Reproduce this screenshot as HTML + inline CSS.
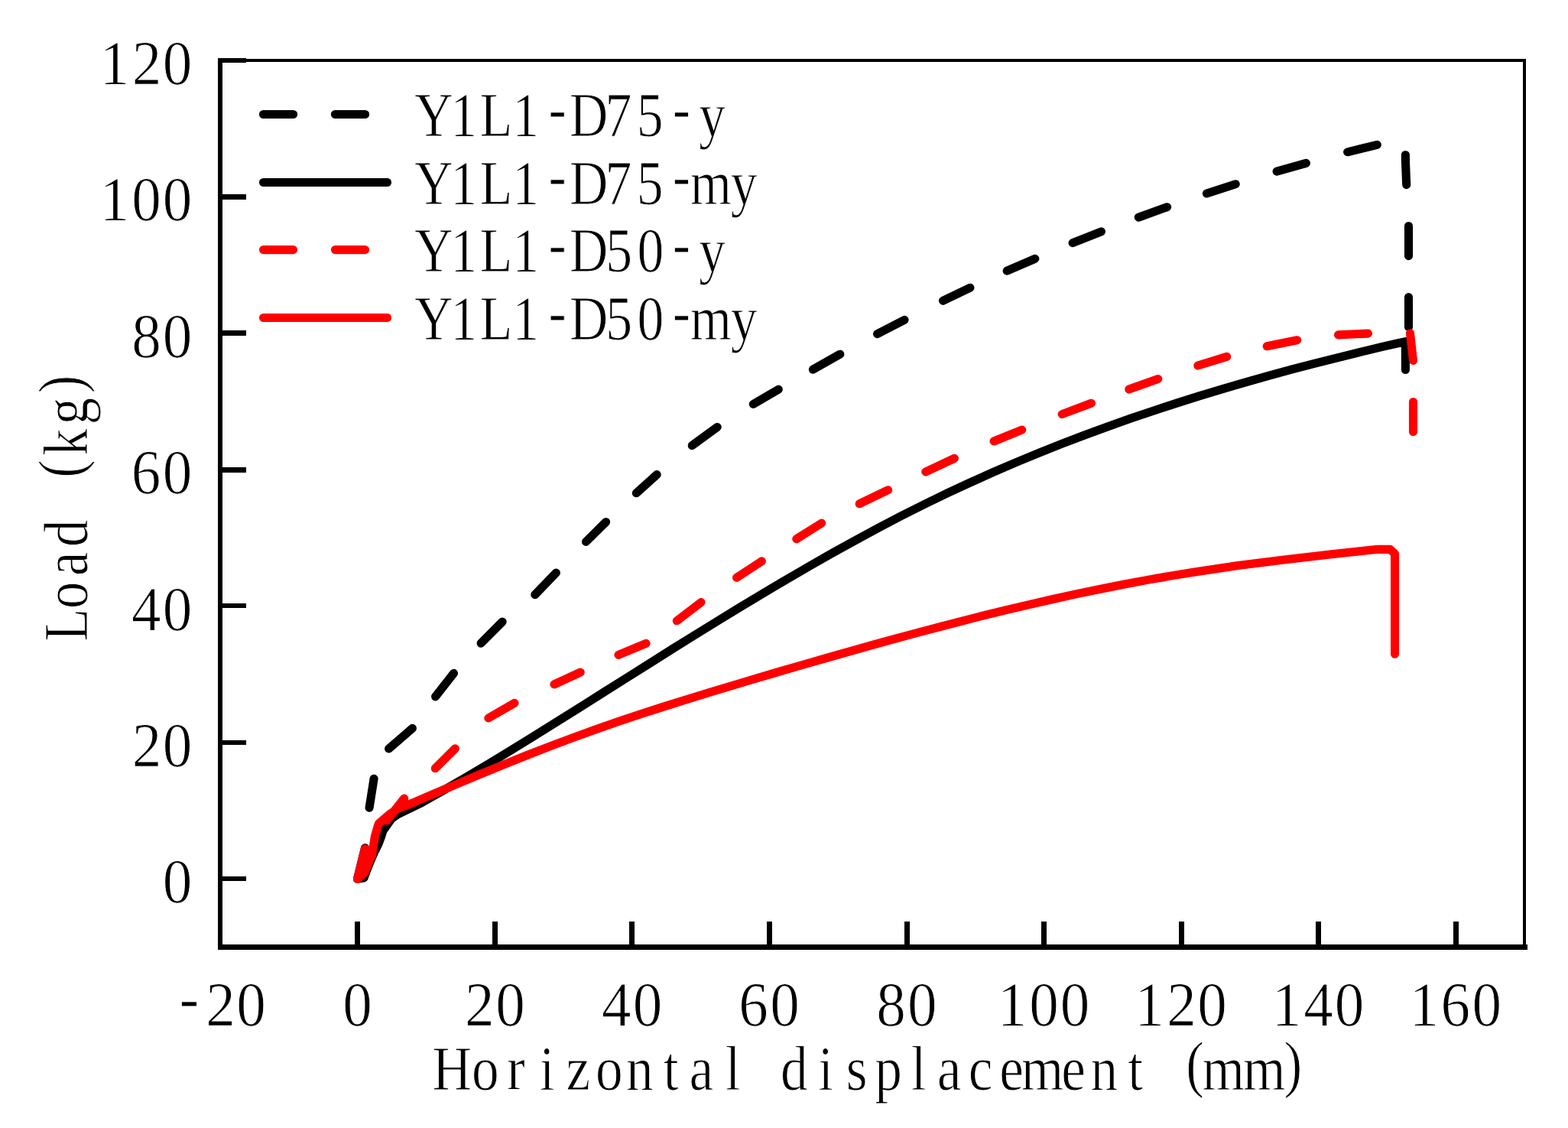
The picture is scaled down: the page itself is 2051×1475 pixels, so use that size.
<!DOCTYPE html>
<html lang="en"><head><meta charset="utf-8"><title>Load - horizontal displacement</title>
<style>html,body{margin:0;padding:0;background:#fff}body{width:2051px;height:1475px;overflow:hidden}svg{display:block}text{font-family:'Liberation Serif', serif;font-size:83px;fill:#000;stroke:#fff;stroke-width:1.0}</style></head><body>
<svg width="2051" height="1475" viewBox="0 0 2051 1475">
<rect width="2051" height="1475" fill="#fff"/>
<g fill="none" stroke-width="11.1" stroke-linecap="round" stroke-linejoin="round">
<path stroke="#000" d="M467.5 1149.3 L477.5 1108.7 M483.1 1056.2 L489.1 1018.2 M508.6 979 L539.4 952.4 M569.6 910.9 L593.5 880.4 M629.1 841.2 L657.1 813 M699.8 777.6 L727.4 749 M766.5 708.4 L792.6 682.5 M832.3 644.8 L859.2 620.6 M905.3 582.6 L938.2 558.5 M985.3 528.5 L1018.3 509.2 M1063.4 483.2 L1098.8 463.2 M1147.6 436.7 L1183 418.3 M1233.5 393.2 L1268.9 376.3 M1317.2 354.2 L1353.8 338.3 M1403.1 317.7 L1440.5 302.8 M1489.3 284.2 L1526.6 270.7 M1578.4 253 L1616.2 240.7 M1670.1 224.2 L1708.4 213.3 M1762.6 198.8 L1801.3 189.3 M1838.4 202.5 L1838.5 212 L1839.7 241.6 M1842.5 295.5 L1842.5 334.7 M1842.5 388.6 L1842.5 427.6"/>
<path stroke="#000" d="M467.5 1149.3 L476 1148 L480 1137.1 L483.7 1128 L489.8 1113.9 L494.7 1104.2 L498.9 1093.2 L501.2 1085.9 L512.2 1070.6 L520 1065 L549.3 1050.8 L579.3 1033.9 L609.3 1016.5 L639.3 998.7 L669.3 980.5 L699.3 962 L729.3 943.3 L759.3 924.5 L789.3 905.5 L819.3 886.6 L849.3 867.7 L879.3 848.8 L909.3 830.1 L939.3 811.6 L969.3 793.2 L999.3 775.2 L1029.3 757.4 L1059.3 740 L1089.3 722.9 L1119.3 706.3 L1149.3 690.1 L1179.3 674.4 L1209.3 659.4 L1239.3 644.8 L1269.3 630.9 L1299.3 617.4 L1329.3 604.5 L1359.3 592.1 L1389.3 580.2 L1419.3 568.7 L1449.3 557.7 L1479.3 547.1 L1509.3 536.9 L1539.3 527.1 L1569.3 517.6 L1599.3 508.6 L1629.3 499.8 L1659.3 491.4 L1689.3 483.2 L1719.3 475.4 L1749.3 467.8 L1779.3 460.4 L1809.3 453.2 L1825.5 449.5 L1838.4 446.6 L1838.4 483.5"/>
<path stroke="#ff0000" d="M467.5 1149.3 L477.5 1109.7 M505.9 1073 L528.7 1044 M569.3 1004.8 L595.4 978.8 M638.9 939 L673 919.4 M725 894.9 L759.2 879.1 M809 856.4 L845.1 841.4 M885.3 811.8 L917 787.6 M963.5 755.3 L996.4 733.9 M1041.8 704.8 L1074.7 684.1 M1124.2 658.8 L1161.6 640.8 M1210.8 617 L1248.4 599.4 M1300.1 577 L1336.7 562.1 M1389.2 541.6 L1427.5 527.2 M1476.8 509.1 L1514.8 495.5 M1566.9 478 L1604.7 466.4 M1657.2 452.8 L1696.7 444.8 M1750.5 437.9 L1789.4 436.1 M1844.5 435.7 L1848.5 471.5 M1848.5 525.5 L1848.5 564.7"/>
<path stroke="#ff0000" d="M467.5 1149.3 L477 1141 L484 1124 L486.4 1119.5 L490.3 1094.1 L493.9 1081.4 L495.5 1077 L508.5 1065.6 L520 1057.5 L539.5 1050 L569.5 1037.2 L599.5 1024.5 L629.5 1011.9 L659.5 999.6 L689.5 987.5 L719.5 975.8 L749.5 964.6 L779.5 953.7 L809.5 943.3 L839.5 933.3 L869.5 923.6 L899.5 914.2 L929.5 905 L959.5 896 L989.5 887 L1019.5 878.2 L1049.5 869.5 L1079.5 860.8 L1109.5 852.3 L1139.5 843.9 L1169.5 835.6 L1199.5 827.5 L1229.5 819.6 L1259.5 811.8 L1289.5 804.2 L1319.5 796.9 L1349.5 789.8 L1379.5 783 L1409.5 776.4 L1439.5 770.2 L1469.5 764.2 L1499.5 758.6 L1529.5 753.4 L1559.5 748.5 L1589.5 743.9 L1619.5 739.6 L1649.5 735.7 L1679.5 731.9 L1709.5 728.4 L1739.5 725 L1769.5 721.8 L1799.5 718.6 L1802.7 718.3 L1818.5 718.4 L1824.5 724.3 L1824.5 855.3"/>
</g>
<g fill="#000" shape-rendering="crispEdges">
<rect x="464" y="1205" width="7" height="34"/>
<rect x="644" y="1205" width="7" height="34"/>
<rect x="823" y="1205" width="7" height="34"/>
<rect x="1003" y="1205" width="7" height="34"/>
<rect x="1183" y="1205" width="7" height="34"/>
<rect x="1362" y="1205" width="7" height="34"/>
<rect x="1542" y="1205" width="7" height="34"/>
<rect x="1721" y="1205" width="7" height="34"/>
<rect x="1901" y="1205" width="7" height="34"/>
<rect x="285" y="1146" width="37" height="6"/>
<rect x="285" y="968" width="37" height="6"/>
<rect x="285" y="789" width="37" height="6"/>
<rect x="285" y="611" width="37" height="7"/>
<rect x="285" y="432" width="37" height="7"/>
<rect x="285" y="254" width="37" height="7"/>
<rect x="285" y="76" width="37" height="6"/>
<rect x="285" y="77" width="6" height="1165"/>
<rect x="285" y="1235" width="1713" height="7"/>
<rect x="285" y="77" width="1711" height="4"/>
<rect x="1992" y="77" width="4" height="1165"/>
</g>
<g text-anchor="middle">
<text transform="scale(0.93 1)" x="249.5" y="1180">0</text>
<text transform="scale(0.93 1)" x="206.4 249.5" y="1002">20</text>
<text transform="scale(0.93 1)" x="205.8 249.5" y="824">40</text>
<text transform="scale(0.93 1)" x="205.4 249.5" y="645">60</text>
<text transform="scale(0.93 1)" x="205.9 249.5" y="467">80</text>
<text transform="scale(0.93 1)" x="161.2 205.9 249.5" y="288">100</text>
<text transform="scale(0.93 1)" x="161.2 206.4 249.5" y="110">120</text>
<text transform="scale(0.93 1)" x="266.1 310.2 353.2" y="1341.5" dy="-9.5 9.5 0">-20</text>
<text transform="scale(0.93 1)" x="502.8" y="1341.5">0</text>
<text transform="scale(0.93 1)" x="674.6 717.7" y="1341.5">20</text>
<text transform="scale(0.93 1)" x="867.1 910.8" y="1341.5">40</text>
<text transform="scale(0.93 1)" x="1059.8 1103.9" y="1341.5">60</text>
<text transform="scale(0.93 1)" x="1253.4 1297" y="1341.5">80</text>
<text transform="scale(0.93 1)" x="1423.6 1468.3 1511.8" y="1341.5">100</text>
<text transform="scale(0.93 1)" x="1616.7 1661.8 1704.9" y="1341.5">120</text>
<text transform="scale(0.93 1)" x="1809.8 1854.3 1898" y="1341.5">140</text>
<text transform="scale(0.93 1)" x="2002.9 2047 2091.1" y="1341.5">160</text>
<text transform="scale(0.86 1)" x="687.5 738.1 784.7 832.2 879.4 926.5 973.2 1020.5 1066.8 1114.8 1161.9 1208 1256 1303 1351.2 1397.4 1443.6 1491.3 1538.5 1585.5 1632.7 1679.6 1726.9 1774.1 1817.5 1860.8 1923 1966.8" y="1425.5" dy="0 0 0 0 0 0 0 0 0 0 0 0 0 0 0 0 0 0 0 0 0 0 0 0 -6.5 6.5 0 -6.5">Horizontal displacement (mm)</text>
<text transform="translate(113.8 0) rotate(-90) scale(0.85 1)" x="-961.5 -915.8 -867.5 -820.4 -771.8 -721.1 -680 -632.6 -591.3" y="0" dy="0 0 0 0 0 -6.5 6.5 0 -6.5">Load (kg)</text>
</g>
<g fill="none" stroke-width="11.1" stroke-linecap="round">
<path stroke="#000" d="M344.5 149.5 H383.6 M438.4 149.5 H477.6"/>
<path stroke="#000" d="M344.5 238.5 H506.5"/>
<path stroke="#ff0000" d="M344.5 326.6 H383.6 M438.4 326.6 H477.6"/>
<path stroke="#ff0000" d="M344.5 415.5 H506.5"/>
</g>
<g text-anchor="middle">
<text transform="scale(0.84 1)" x="675.6 722.1 772.8 818.7 868.1 916.8 963.1 1012.1 1061.1 1109.1" y="178.1" dy="0 0 0 0 -9.5 9.5 0 0 -9.5 9.5">Y1L1-D75-y</text>
<text transform="scale(0.84 1)" x="675.6 722.1 772.8 818.7 868.1 916.8 963.1 1012.1 1061.1 1106.9 1158.6" y="266.8" dy="0 0 0 0 -9.5 9.5 0 0 -9.5 9.5 0">Y1L1-D75-my</text>
<text transform="scale(0.84 1)" x="675.6 722.1 772.8 818.7 868.1 916.8 963.9 1012.9 1061.1 1109.1" y="355.4" dy="0 0 0 0 -9.5 9.5 0 0 -9.5 9.5">Y1L1-D50-y</text>
<text transform="scale(0.84 1)" x="675.6 722.1 772.8 818.7 868.1 916.8 963.9 1012.9 1061.1 1106.9 1158.6" y="444.1" dy="0 0 0 0 -9.5 9.5 0 0 -9.5 9.5 0">Y1L1-D50-my</text>
</g>
</svg></body></html>
